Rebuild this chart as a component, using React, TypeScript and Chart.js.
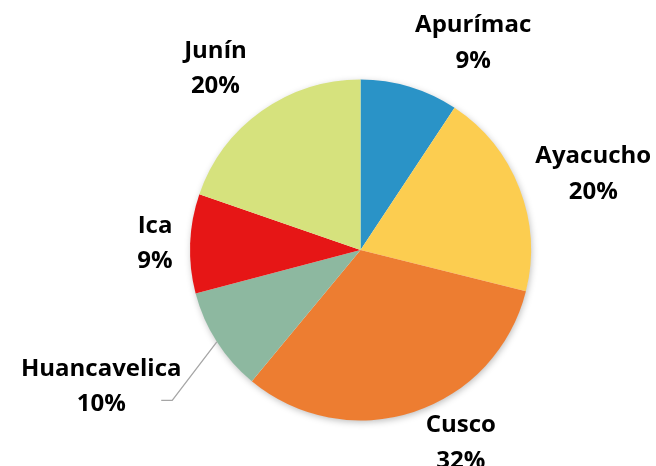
import React, { useEffect, useRef } from "react";
import { Chart, ArcElement, PieController } from "chart.js";

Chart.register(ArcElement, PieController);

const categories = ["Apurímac", "Ayacucho", "Cusco", "Huancavelica", "Ica", "Junín"];
const values = [9.3, 19.6, 32.1, 9.9, 9.4, 19.7];
const colors = ["#2a93c7", "#fccd50", "#ed7d31", "#8db8a0", "#e61616", "#d6e27d"];

// label placement (style): angle shift in degrees from slice middle, distance as radius ratio
const labelAngleShift = [11.6, 2.8, -9.5, 5.1, 0.15, -2.9];
const labelDistance = [1.392, 1.439, 1.266, 1.714, 1.206, 1.371];
const labelLeader = [false, false, false, true, false, false];

const FONT = 'bold 24px "Open Sans"';
const LINE_GAP = 35.5;
const CAP_HALF = 8.75;

const labelsPlugin = {
  id: "outLabels",
  beforeDatasetsDraw(chart: any) {
    const meta = chart.getDatasetMeta(0);
    const el = meta.data[0];
    if (!el) return;
    const { x, y, outerRadius } = el.getProps(["x", "y", "outerRadius"], true);
    const ctx = chart.ctx;
    ctx.save();
    ctx.shadowColor = "rgba(0,0,0,0.28)";
    ctx.shadowBlur = 7;
    ctx.shadowOffsetX = 1;
    ctx.shadowOffsetY = 2;
    ctx.beginPath();
    ctx.arc(x, y, outerRadius - 0.5, 0, Math.PI * 2);
    ctx.fillStyle = "#ffffff";
    ctx.fill();
    ctx.restore();
  },
  afterDatasetsDraw(chart: any) {
    const meta = chart.getDatasetMeta(0);
    const ctx = chart.ctx;
    const data = chart.data.datasets[0].data as number[];
    const total = data.reduce((a, b) => a + b, 0);
    meta.data.forEach((el: any, i: number) => {
      const { x, y, startAngle, endAngle, outerRadius } = el.getProps(
        ["x", "y", "startAngle", "endAngle", "outerRadius"],
        true
      );
      const midRaw = (startAngle + endAngle) / 2;
      const mid = midRaw + (labelAngleShift[i] * Math.PI) / 180;
      const d = outerRadius * labelDistance[i];
      const cx = x + d * Math.cos(mid);
      const cy = y + d * Math.sin(mid);
      const pct = Math.round((data[i] / total) * 100) + "%";

      if (labelLeader[i]) {
        const ex = x + outerRadius * Math.cos(midRaw);
        const ey = y + outerRadius * Math.sin(midRaw);
        ctx.save();
        ctx.strokeStyle = "#a6a6a6";
        ctx.lineWidth = 1.3;
        ctx.beginPath();
        ctx.moveTo(ex, ey);
        ctx.lineTo(cx + 71, cy + 15.5);
        ctx.lineTo(cx + 60, cy + 15.5);
        ctx.stroke();
        ctx.restore();
      }

      ctx.save();
      ctx.font = FONT;
      ctx.fillStyle = "#000000";
      ctx.textAlign = "center";
      ctx.textBaseline = "alphabetic";
      ctx.fillText(chart.data.labels[i], cx, cy - LINE_GAP / 2 + CAP_HALF);
      ctx.fillText(pct, cx, cy + LINE_GAP / 2 + CAP_HALF);
      ctx.restore();
    });
  },
};

export default function App() {
  const ref = useRef<HTMLCanvasElement | null>(null);
  useEffect(() => {
    if (!ref.current) return;
    const chart = new Chart(ref.current, {
      type: "pie",
      data: {
        labels: categories,
        datasets: [
          {
            data: values,
            backgroundColor: colors,
            borderWidth: 0,
            hoverOffset: 0,
            offset: 0,
          },
        ],
      },
      options: {
        animation: false,
        responsive: true,
        maintainAspectRatio: false,
        events: [],
        layout: { padding: { left: 190, right: 125, top: 79.5, bottom: 45.5 } },
        plugins: {
          legend: { display: false },
          tooltip: { enabled: false },
        } as any,
      },
      plugins: [labelsPlugin],
    });
    return () => chart.destroy();
  }, []);
  return (
    <div style={{ position: "absolute", left: 0, top: 0, width: 656, height: 466, background: "#fff" }}>
      <canvas ref={ref} />
    </div>
  );
}
